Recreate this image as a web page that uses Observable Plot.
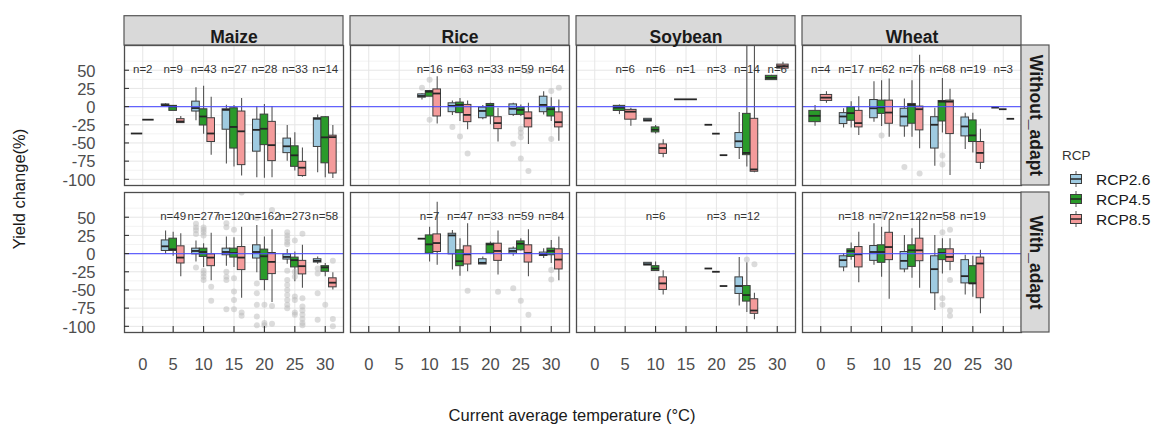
<!DOCTYPE html>
<html>
<head>
<meta charset="utf-8">
<script src="https://cdn.jsdelivr.net/npm/d3@7"></script>
<script src="https://cdn.jsdelivr.net/npm/@observablehq/plot@0.6"></script>
<style>
  html, body { margin: 0; padding: 0; background: #fff; }
  #chart { width: 1153px; height: 426px; overflow: hidden; }
</style>
</head>
<body>
<div id="chart"></div>
<script>
// ---------- categories ----------
const crops = ["Maize", "Rice", "Soybean", "Wheat"];
const adapts = ["Without_adapt", "With_adapt"];
const rcps = ["RCP2.6", "RCP4.5", "RCP8.5"];
const rcpColors = ["#9fcbe1", "#2a9a2a", "#f49b9b"];
const tempTicks = [0, 5, 10, 15, 20, 25, 30];
const yTicks = [50, 25, 0, -25, -50, -75, -100];
const yMinor = [62.5, 37.5, 12.5, -12.5, -37.5, -62.5, -87.5];

// ---------- box summaries: [temp, rcp, lower whisker, q1, median, q3, upper whisker] ----------
// (a single value [temp, rcp, v] means n = 1)
const maizeWithout = [
  [0, "RCP2.6", -37], [0, "RCP8.5", -18],
  [5, "RCP2.6", 1, 1.2, 2, 3, 4], [5, "RCP4.5", -6, -5.9, 0.3, 1, 1.5], [5, "RCP8.5", -23, -22.7, -20.5, -17.3, -13.6],
  [10, "RCP2.6", -19.5, -6.8, -2, 6.8, 26], [10, "RCP4.5", -38, -26, -13.6, -3.7, 28], [10, "RCP8.5", -67, -48.7, -37, -16, 13],
  [15, "RCP2.6", -79, -31.8, -4.5, -3.7, 2], [15, "RCP4.5", -83, -57.7, -28, -2.3, 1.4], [15, "RCP8.5", -95.5, -80.5, -34, -6.8, 11],
  [20, "RCP2.6", -98, -62, -32, -18, 0], [20, "RCP4.5", -98.6, -53, -30.5, -11, 3], [20, "RCP8.5", -98, -75, -53, -21, 0],
  [25, "RCP2.6", -75, -64, -54.6, -44, -26], [25, "RCP4.5", -88.7, -82.8, -67, -54.6, -36], [25, "RCP8.5", -97, -95.5, -84, -76, -57],
  [30, "RCP2.6", -91, -55.5, -16.8, -16, -11.4], [30, "RCP4.5", -97.8, -78, -42.3, -14.6, -13.6], [30, "RCP8.5", -99, -92, -42, -40, -26]
];
const riceWithout = [
  [10, "RCP2.6", 9, 12.3, 14.6, 16.8, 18], [10, "RCP4.5", 13.6, 13.6, 20.5, 21.4, 22], [10, "RCP8.5", -24, -13.6, 18, 23.6, 41],
  [15, "RCP2.6", -12.3, -7.7, 1, 4.5, 7.7], [15, "RCP4.5", -20.5, -9, 2.3, 5.5, 11], [15, "RCP8.5", -32, -21.4, -11.4, 2.3, 7.8],
  [20, "RCP2.6", -18, -16, -6, -1.4, 1.4], [20, "RCP4.5", -25, -13.6, 1.4, 3.6, 4.5], [20, "RCP8.5", -48.7, -31, -22.7, -14.6, -2.3],
  [25, "RCP2.6", -13.6, -11.4, -3, 3, 4.5], [25, "RCP4.5", -13.6, -11.4, -4.5, -1.4, 2.3], [25, "RCP8.5", -52, -28.6, -16, -8, 4.5],
  [30, "RCP2.6", -11.4, -7.7, 2.3, 13.6, 20.5], [30, "RCP4.5", -20.5, -13.6, -3.6, -1, 12], [30, "RCP8.5", -47.7, -28.6, -21.4, -8, 9]
];
const soybeanWithout = [
  [5, "RCP4.5", -11, -6, -1.4, 1, 2.3], [5, "RCP8.5", -27, -18, -7, -4.5, -2.3],
  [10, "RCP2.6", -20.5, -20.5, -18.6, -16.8, -16.8], [10, "RCP4.5", -37.7, -35.5, -31.8, -28.6, -26], [10, "RCP8.5", -70.5, -65, -57, -52, -45.5],
  [15, "RCP4.5", 10],
  [20, "RCP2.6", -25], [20, "RCP4.5", -37.2], [20, "RCP8.5", -66.8],
  [25, "RCP2.6", -72.7, -56.9, -47.7, -36.4, -8.2], [25, "RCP4.5", -83, -66.8, -63.7, -10, 95], [25, "RCP8.5", -91, -89.6, -86.4, -16.8, 95],
  [30, "RCP4.5", 36, 36.4, 39.6, 42.3, 43], [30, "RCP8.5", 52, 52.2, 55.5, 57.7, 61]
];
const wheatWithout = [
  [0, "RCP4.5", -27, -21.4, -12.7, -5.9, 1.4], [0, "RCP8.5", 4.5, 7.8, 12.3, 16, 20.5],
  [5, "RCP2.6", -29.6, -24, -13.6, -9, -3], [5, "RCP4.5", -29.6, -19.5, -9, -1, 6.8], [5, "RCP8.5", -39.6, -28.6, -22.7, -5.9, 13.6],
  [10, "RCP2.6", -21.4, -16, -2.3, 9, 34], [10, "RCP4.5", -27.3, -10, -1, 8.2, 35.5], [10, "RCP8.5", -42.3, -23.6, -8.2, 8.2, 37.8],
  [15, "RCP2.6", -42.3, -27.3, -13.6, -3, 10.5], [15, "RCP4.5", -42.3, -23.6, 2.3, 3.6, 35.5], [15, "RCP8.5", -58, -32.7, -3.6, 0, 70.5],
  [20, "RCP2.6", -81.9, -57.7, -25, -14.6, -2.3], [20, "RCP4.5", -36.4, -20.5, 6.8, 7.7, 38.6], [20, "RCP8.5", -94.6, -37.8, 6.8, 8.2, 24],
  [25, "RCP2.6", -59, -41, -27.3, -15, -9], [25, "RCP4.5", -63.7, -48.7, -39.6, -19, -9], [25, "RCP8.5", -86.4, -77.3, -63.7, -48.7, -31],
  [30, "RCP2.6", -1.4], [30, "RCP4.5", -3.6], [30, "RCP8.5", -16.8]
];
const maizeWith = [
  [5, "RCP2.6", -1, 3.6, 10, 18.1, 30.9], [5, "RCP4.5", -3.7, 3.6, 5.9, 20.5, 29.5], [5, "RCP8.5", -31.9, -13.6, -5.5, 10, 27.3],
  [10, "RCP2.6", -11.4, -1, 3.6, 6.8, 17.2], [10, "RCP4.5", -19, -4.6, 2.2, 6.8, 13.6], [10, "RCP8.5", -37.4, -17.3, -5.5, -1, 28],
  [15, "RCP2.6", -17.3, -2.3, 2.2, 6.8, 22.7], [15, "RCP4.5", -19, -5.5, 0.8, 6.8, 21.8], [15, "RCP8.5", -61.4, -22.7, -5.5, 9, 36.3],
  [20, "RCP2.6", -26.4, -6.8, 2.2, 11.4, 38.6], [20, "RCP4.5", -51, -36.4, -3.7, 5.5, 22.7], [20, "RCP8.5", -67.4, -28.2, -11.4, 0.8, 32.7],
  [25, "RCP2.6", -14.6, -8.2, -4.6, -1, 5.5], [25, "RCP4.5", -38.7, -19, -9, -5.5, 2.2], [25, "RCP8.5", -47.7, -28.6, -17.3, -10, 11.4],
  [30, "RCP2.6", -14.6, -12.3, -10, -7.8, -4.6], [30, "RCP4.5", -31.9, -25, -19, -17.3, -13.6], [30, "RCP8.5", -50, -46.4, -40, -34, -26.4]
];
const riceWith = [
  [10, "RCP2.6", 20.5], [10, "RCP4.5", -11.4, 0, 12.7, 25, 36.3], [10, "RCP8.5", -16, 2.2, 14.5, 26.4, 70.5],
  [15, "RCP2.6", -22.7, -1, 25, 27.3, 31.8], [15, "RCP4.5", -31, -17.3, -10.5, 4.5, 20.5], [15, "RCP8.5", -25, -15, -1, 10, 41],
  [20, "RCP2.6", -15, -15, -12.7, -7.8, -4.6], [20, "RCP4.5", -1, 0, 12.7, 13.6, 15.8], [20, "RCP8.5", -29.6, -10, 3.6, 13.6, 30.9],
  [25, "RCP2.6", -3.7, 0, 3.6, 6.8, 9], [25, "RCP4.5", 3.6, 4.5, 13.6, 16.8, 20.5], [25, "RCP8.5", -31.9, -12.3, 0.8, 11.4, 32.7],
  [30, "RCP2.6", -6.8, -3.3, -1, 1.4, 6.8], [30, "RCP4.5", -13.6, -2.3, 3.6, 6.8, 18], [30, "RCP8.5", -37.4, -21.8, -8.2, 5.9, 22.7]
];
const soybeanWith = [
  [10, "RCP2.6", -16.4, -16.4, -14.6, -12.7, -12.7], [10, "RCP4.5", -24, -24, -20.5, -17.3, -11.4], [10, "RCP8.5", -57, -50, -41, -32.7, -23.7],
  [20, "RCP2.6", -20.5], [20, "RCP4.5", -25], [20, "RCP8.5", -44.6],
  [25, "RCP2.6", -72, -55.5, -44.6, -32.7, -5.5], [25, "RCP4.5", -81, -66, -57, -44.6, -12.7], [25, "RCP8.5", -91, -82.8, -78.3, -62.8, -54.6]
];
const wheatWith = [
  [5, "RCP2.6", -25, -19, -9, -3.7, 0], [5, "RCP4.5", -9, -4.6, 3.6, 5.9, 14.5], [5, "RCP8.5", -40, -19, -1, 9, 29.5],
  [10, "RCP2.6", -16, -10, 2.2, 10.4, 41], [10, "RCP4.5", -32.7, -12.7, 2.2, 11.4, 36.3], [10, "RCP8.5", -62.8, -9, 9, 28.6, 45.5],
  [15, "RCP2.6", -26.4, -21.8, -10, 2.2, 25], [15, "RCP4.5", -34, -18.3, 4.5, 11.4, 34], [15, "RCP8.5", -47.7, -10.5, 4.5, 20.5, 50],
  [20, "RCP2.6", -78.3, -54.6, -21.4, -3.7, 25], [20, "RCP4.5", -28.2, -9, 0.8, 5.9, 20.5], [20, "RCP8.5", -23.7, -11.4, -4.6, 5.9, 20.5],
  [25, "RCP2.6", -57, -41, -31, -9, -2.3], [25, "RCP4.5", -60, -41, -41, -17.3, -3.7], [25, "RCP8.5", -82.8, -61.4, -13.6, -5.5, 4.5]
];

// ---------- outliers: [temp, rcp, values...] ----------
const maizeWithoutOut = [];
const riceWithoutOut = [
  [10, "RCP2.6", 26], [10, "RCP4.5", 37, -18],
  [15, "RCP2.6", -28], [15, "RCP4.5", -41], [15, "RCP8.5", -64.5],
  [25, "RCP2.6", -51], [25, "RCP4.5", -30.5, -36, -42, -71.4], [25, "RCP8.5", -88.7, 48.7],
  [30, "RCP4.5", 21.4, -44.6], [30, "RCP8.5", 26]
];
const soybeanWithoutOut = [];
const wheatWithoutOut = [
  [10, "RCP4.5", -39.6], [15, "RCP2.6", -83], [15, "RCP8.5", -92], [20, "RCP4.5", -67.3, -79.6]
];
const maizeWithOut = [
  [10, "RCP2.6", 41, 36, 32, 27, -19], [10, "RCP4.5", 36, 32.7, 29.5, 25, -23.7, -27.3, -31.9, -36.4], [10, "RCP8.5", -45.5, -64.7],
  [15, "RCP2.6", 41.8, 36.3, -25, -32, -36.4, -76.4], [15, "RCP4.5", 32.7, -34, -52, -63.7, -76.4], [15, "RCP8.5", -81, -85.5, 84],
  [20, "RCP2.6", 49, -41, -54.6, -70.5, -86.4, -98.7], [20, "RCP4.5", -70.5, -95.5, -98.7], [20, "RCP8.5", 60, -72, -96.5],
  [25, "RCP2.6", 29.5, 25, 20.5, 15.8, 12.7, -23.7, -36.4, -43.2, -50, -57, -63.7, -70.5, -75],
  [25, "RCP4.5", 18, -25, -32, -59, -63.7, -81, -84],
  [25, "RCP8.5", 27.3, -61.4, -72.8, -78.3, -84, -90, -95.5, -98.7],
  [30, "RCP2.6", -20.5, -27.3, -54.6, -91], [30, "RCP4.5", -70.5], [30, "RCP8.5", -10, -90, -100]
];
const riceWithOut = [
  [15, "RCP8.5", -51], [20, "RCP8.5", -52.4], [25, "RCP2.6", -47.7], [25, "RCP4.5", -64.7], [25, "RCP8.5", -84],
  [30, "RCP4.5", -22.7, -35.5]
];
const soybeanWithOut = [[25, "RCP4.5", -8.2], [25, "RCP8.5", -14.6]];
const wheatWithOut = [
  [10, "RCP4.5", 51], [20, "RCP4.5", 29.5, -61.4, -70.5], [20, "RCP8.5", 32.7, -36.4, -78.3, -85.5]
];

// ---------- sample sizes: [temp, n] ----------
const maizeWithoutN = [[0, 2], [5, 9], [10, 43], [15, 27], [20, 28], [25, 33], [30, 14]];
const riceWithoutN = [[10, 16], [15, 63], [20, 33], [25, 59], [30, 64]];
const soybeanWithoutN = [[5, 6], [10, 6], [15, 1], [20, 3], [25, 14], [30, 6]];
const wheatWithoutN = [[0, 4], [5, 17], [10, 62], [15, 76], [20, 68], [25, 19], [30, 3]];
const maizeWithN = [[5, 49], [10, 277], [15, 120], [20, 162], [25, 273], [30, 58]];
const riceWithN = [[10, 7], [15, 47], [20, 33], [25, 59], [30, 84]];
const soybeanWithN = [[10, 6], [20, 3], [25, 12]];
const wheatWithN = [[5, 18], [10, 72], [15, 122], [20, 58], [25, 19]];

const panels = [
  ["Maize", "Without_adapt", maizeWithout, maizeWithoutOut, maizeWithoutN],
  ["Rice", "Without_adapt", riceWithout, riceWithoutOut, riceWithoutN],
  ["Soybean", "Without_adapt", soybeanWithout, soybeanWithoutOut, soybeanWithoutN],
  ["Wheat", "Without_adapt", wheatWithout, wheatWithoutOut, wheatWithoutN],
  ["Maize", "With_adapt", maizeWith, maizeWithOut, maizeWithN],
  ["Rice", "With_adapt", riceWith, riceWithOut, riceWithN],
  ["Soybean", "With_adapt", soybeanWith, soybeanWithOut, soybeanWithN],
  ["Wheat", "With_adapt", wheatWith, wheatWithOut, wheatWithN]
];

// ---------- derived tables ----------
const DODGE = 0.75 * 5;   // dodge width in temperature units
const boxes = [], outliers = [], counts = [];
for (const [crop, adapt, rows, outs, ns] of panels) {
  const byT = d3.group(rows, r => r[0]);
  const local = [];
  for (const [t, rs] of byT) {
    const present = rcps.filter(r => rs.some(x => x[1] === r));
    const w = DODGE / present.length;
    for (const r of rs) {
      const i = present.indexOf(r[1]);
      const v = r.length === 3 ? [r[2], r[2], r[2], r[2], r[2]] : r.slice(2);
      const x1 = t - DODGE / 2 + i * w;
      const b = {crop, adapt, t, rcp: r[1], lo: v[0], q1: v[1], med: v[2], q3: v[3], hi: v[4], x1, x2: x1 + w, xc: x1 + w / 2};
      boxes.push(b); local.push(b);
    }
  }
  for (const o of outs) {
    const b = local.find(d => d.t === o[0] && d.rcp === o[1]);
    for (const v of o.slice(2)) outliers.push({crop, adapt, rcp: o[1], xc: b.xc, v});
  }
  for (const [t, n] of ns) counts.push({crop, adapt, t, label: "n=" + n});
}

const xDomain = [-3, 33];
const yDomain = [-108.5, 84];
const topStrips = crops.map(c => ({crop: c, adapt: adapts[0]}));
const sideStrips = adapts.map(a => ({crop: crops[crops.length - 1], adapt: a}));
const yLabelData = adapts.flatMap(a => yTicks.map(v => ({crop: crops[0], adapt: a, v})));
const xLabelData = crops.flatMap(c => tempTicks.map(t => ({crop: c, adapt: adapts[1], t})));

const FONT = "'Liberation Sans', Arial, Helvetica, sans-serif";
const fxy = {fx: "crop", fy: "adapt"};

const svg = Plot.plot({
  width: 1153,
  height: 426,
  marginLeft: 123.5,
  marginRight: 131,
  marginTop: 44.3,
  marginBottom: 93.7,
  style: {fontFamily: FONT, background: "#fff", overflow: "visible"},
  x: {domain: xDomain, axis: null},
  y: {domain: yDomain, axis: null},
  fx: {domain: crops, paddingInner: 0.0288, paddingOuter: 0, axis: null, label: null},
  fy: {domain: adapts, paddingInner: 0.0455, paddingOuter: 0, axis: null, label: null},
  color: {domain: rcps, range: rcpColors},
  marks: [
    Plot.ruleY(yMinor, {stroke: "#f3f3f3", strokeWidth: 1}),
    Plot.ruleY(yTicks, {stroke: "#e6e6e6", strokeWidth: 1}),
    Plot.ruleX(tempTicks, {stroke: "#e6e6e6", strokeWidth: 1}),
    // whiskers
    Plot.ruleX(boxes, {...fxy, x: "xc", y1: "lo", y2: "q1", stroke: "#555", strokeWidth: 1.1, clip: true}),
    Plot.ruleX(boxes, {...fxy, x: "xc", y1: "q3", y2: "hi", stroke: "#555", strokeWidth: 1.1, clip: true}),
    // boxes
    Plot.rect(boxes, {...fxy, x1: "x1", x2: "x2", y1: "q1", y2: "q3", fill: "rcp", stroke: "#3d3d3d", strokeWidth: 1, clip: true}),
    // medians
    Plot.ruleY(boxes, {...fxy, y: "med", x1: "x1", x2: "x2", stroke: "#262626", strokeWidth: 1.8, clip: true}),
    // outliers
    Plot.dot(outliers, {...fxy, x: "xc", y: "v", r: 3, fill: "#b9b9b9", fillOpacity: 0.5, stroke: "none", clip: true}),
    // zero line
    Plot.ruleY([0], {stroke: "#4a4aff", strokeWidth: 1.1, strokeOpacity: 0.85}),
    // n labels
    Plot.text(counts, {...fxy, x: "t", text: "label", frameAnchor: "top", dy: 19, fontSize: 11.5, fill: "#333"}),
    // panel borders
    Plot.frame({stroke: "#4d4d4d", strokeWidth: 1.3}),
    // y ticks (inward) and labels
    Plot.ruleY(yLabelData, {...fxy, y: "v", x1: xDomain[0], x2: xDomain[0], insetRight: -5, stroke: "#333", strokeWidth: 1.1}),
    Plot.text(yLabelData, {...fxy, y: "v", text: d => String(d.v), frameAnchor: "left", textAnchor: "end", dx: -29, dy: 1, fontSize: 16.5, fill: "#4d4d4d"}),
    // x ticks (inward) and labels
    Plot.ruleX(xLabelData, {...fxy, x: "t", y1: yDomain[0], y2: yDomain[0], insetTop: -6, stroke: "#333", strokeWidth: 1.1}),
    Plot.text(xLabelData, {...fxy, x: "t", text: d => String(d.t), frameAnchor: "bottom", dy: 37, fontSize: 16.5, fill: "#4d4d4d"}),
    // strips
    Plot.rect(topStrips, {...fxy, x1: xDomain[0], x2: xDomain[1], y1: yDomain[1], y2: yDomain[1], insetTop: -29.3, fill: "#d9d9d9", stroke: "#555", strokeWidth: 1.2}),
    Plot.text(topStrips, {...fxy, text: "crop", frameAnchor: "top", dy: -14.6, fontSize: 17.5, fontWeight: "bold", fill: "#1a1a1a"}),
    Plot.rect(sideStrips, {...fxy, x1: xDomain[1], x2: xDomain[1], y1: yDomain[0], y2: yDomain[1], insetRight: -28, fill: "#d9d9d9", stroke: "#555", strokeWidth: 1.2}),
    Plot.text(sideStrips, {...fxy, text: "adapt", frameAnchor: "right", textAnchor: "middle", lineAnchor: "middle", dx: 14, rotate: 90, fontSize: 17.5, fontWeight: "bold", fill: "#1a1a1a"})
  ]
});

const root = d3.select(svg);
// axis titles
root.append("text")
  .attr("transform", "translate(21,189) rotate(-90)")
  .attr("text-anchor", "middle").attr("dominant-baseline", "middle")
  .attr("font-family", FONT).attr("font-size", 16.5).attr("fill", "#1a1a1a")
  .text("Yield change(%)");
root.append("text")
  .attr("x", 572).attr("y", 421)
  .attr("text-anchor", "middle")
  .attr("font-family", FONT).attr("font-size", 16.5).attr("fill", "#1a1a1a")
  .text("Current average temperature (°C)");

// legend
const lg = root.append("g").attr("font-family", FONT).attr("text-anchor", "start");
lg.append("text").attr("x", 1062).attr("y", 160).attr("text-anchor", "start").attr("font-size", 13.5).attr("fill", "#333").text("RCP");
rcps.forEach((r, i) => {
  const cy = 179 + i * 20;
  const g = lg.append("g");
  g.append("line").attr("x1", 1076).attr("x2", 1076).attr("y1", cy - 8).attr("y2", cy + 8).attr("stroke", "#555");
  g.append("rect").attr("x", 1070.5).attr("y", cy - 4.5).attr("width", 11).attr("height", 9)
    .attr("fill", rcpColors[i]).attr("stroke", "#3d3d3d");
  g.append("line").attr("x1", 1070.5).attr("x2", 1081.5).attr("y1", cy).attr("y2", cy).attr("stroke", "#262626").attr("stroke-width", 1.5);
  lg.append("text").attr("x", 1096).attr("y", cy + 5.5).attr("text-anchor", "start").attr("font-size", 15.5).attr("fill", "#1a1a1a").text(r);
});

document.getElementById("chart").appendChild(svg);
</script>
</body>
</html>
